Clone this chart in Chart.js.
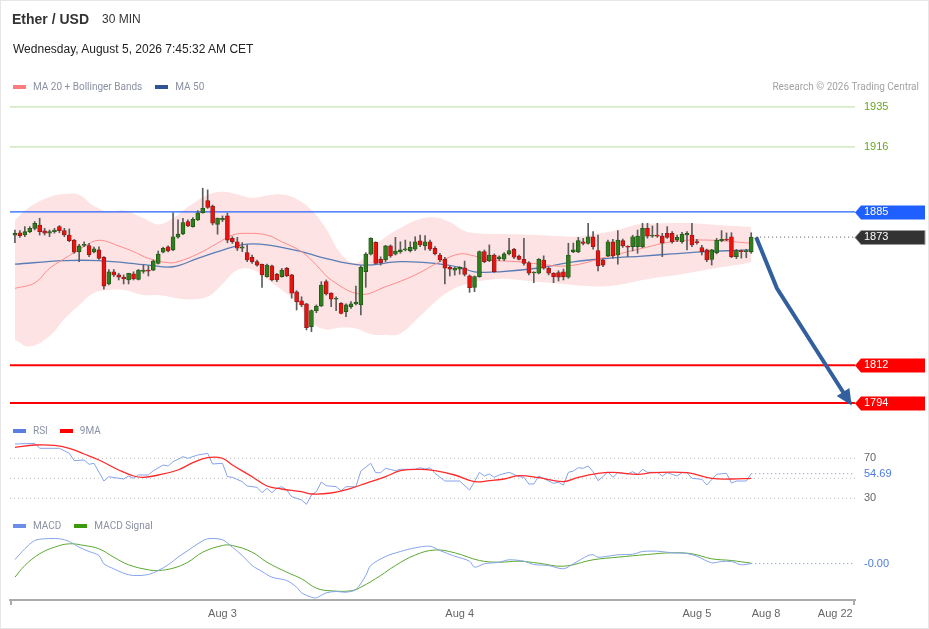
<!DOCTYPE html>
<html lang="en">
  <head>
    <meta charset="utf-8" />
    <title>Ether / USD 30 MIN</title>
    <style>
      body { margin: 0; background: #fff; font-family: Arial, "Liberation Sans", sans-serif; }
      #wrap { position: relative; width: 929px; height: 629px; overflow: hidden; }
      #chart { position: absolute; left: 0; top: 0; }
      #frame { position: absolute; left: 0; top: 0; width: 927px; height: 627px; border: 1px solid #e6e6e6; pointer-events: none; }
      .txt { position: absolute; white-space: nowrap; line-height: 16px; }
      .legend { position: absolute; font-family: Roboto, Arial, sans-serif; font-size: 10px; line-height: 12px; color: #8b91a3; white-space: nowrap; }
      .sw { display: inline-block; width: 13px; height: 4px; margin-right: 7px; vertical-align: 1px; }
    </style>
  </head>
  <body>
    <div id="wrap">
      <canvas id="chart" width="929" height="629"></canvas>

      <div class="txt" style="left:12px; top:11px; font-size:14px; font-weight:bold; color:#333;">Ether / USD</div>
      <div class="txt" style="left:102px; top:11px; font-size:12px; color:#333;">30 MIN</div>
      <div class="txt" style="left:13px; top:41px; font-size:12px; color:#222;">Wednesday, August 5, 2026 7:45:32 AM CET</div>

      <div class="legend" style="left:13px; top:81px;">
        <span class="sw" style="background:#ff7b7b;"></span>MA 20 + Bollinger Bands<span class="sw" style="background:#2f5597; margin-left:13px;"></span>MA 50
      </div>
      <div class="legend" style="right:10px; top:81px; color:#a3a3a3;">Research © 2026 Trading Central</div>

      <div class="legend" style="left:13px; top:425px;">
        <span class="sw" style="background:#5b7fe0;"></span>RSI<span class="sw" style="background:#ff0000; margin-left:12px;"></span>9MA
      </div>
      <div class="legend" style="left:13px; top:520px;">
        <span class="sw" style="background:#6b8fe8;"></span>MACD<span class="sw" style="background:#3c9a0a; margin-left:13px;"></span>MACD Signal
      </div>

      <div id="frame"></div>
    </div>

    <script src="https://cdn.jsdelivr.net/npm/chart.js"></script>
    <script>
      // 30 min candles, index 0..149 (Aug 3 00:00 = index 42)
      const candleOpen = [
        1873.9,1875.1,1874.0,1875.6,1877.2,1878.8,1876.0,1874.9,1875.6,1878.0,
        1876.1,1874.0,1871.6,1866.0,1869.0,1869.0,1866.0,1866.9,1863.4,1850.7,
        1856.5,1855.0,1853.9,1852.6,1855.5,1852.9,1856.7,1857.3,1857.3,1860.5,
        1865.8,1868.4,1866.9,1873.0,1874.5,1880.4,1878.0,1881.2,1884.6,1890.4,
        1887.8,1879.1,1881.2,1883.1,1872.4,1870.8,1867.7,1865.6,1863.4,1861.3,
        1860.1,1854.2,1859.3,1855.3,1854.2,1858.1,1855.0,1847.0,1842.7,1841.2,
        1830.4,1838.0,1840.2,1851.8,1846.3,1843.4,1841.5,1837.5,1839.9,1841.2,
        1840.7,1856.5,1864.9,1870.5,1862.4,1862.1,1868.8,1864.9,1865.9,1866.9,
        1866.6,1867.3,1871.2,1868.8,1870.8,1867.7,1864.5,1862.4,1858.6,1857.3,
        1857.7,1858.4,1854.6,1849.1,1854.2,1866.1,1861.8,1864.5,1862.8,1862.5,
        1865.0,1867.2,1864.0,1862.4,1860.8,1855.9,1855.8,1862.1,1858.2,1855.8,
        1856.1,1856.5,1853.9,1866.0,1866.0,1870.8,1870.0,1873.2,1866.6,1862.1,
        1864.0,1870.8,1864.5,1871.3,1868.6,1868.4,1868.4,1868.4,1877.2,1873.5,
        1874.0,1873.5,1874.8,1874.8,1871.6,1870.8,1874.0,1874.0,1870.8,1868.0,
        1866.9,1862.4,1865.6,1871.3,1872.0,1873.2,1863.7,1866.6,1866.1,1866.0
      ];
      const candleHigh = [
        1876.4,1876.1,1878.0,1878.0,1880.4,1882.0,1877.2,1876.4,1877.2,1878.5,
        1877.2,1876.9,1871.9,1869.6,1870.8,1870.1,1868.3,1868.4,1863.7,1857.6,
        1857.6,1855.8,1855.0,1855.8,1856.5,1857.6,1859.7,1859.3,1862.1,1866.4,
        1868.2,1868.8,1884.6,1881.2,1882.0,1881.2,1882.3,1885.6,1896.3,1895.5,
        1888.3,1882.1,1883.1,1884.4,1873.2,1872.9,1870.4,1869.3,1864.5,1862.1,
        1860.2,1860.2,1859.7,1855.8,1858.1,1858.6,1855.3,1847.5,1844.6,1841.5,
        1838.3,1840.7,1851.8,1852.6,1846.5,1844.6,1841.8,1841.2,1842.3,1849.7,
        1859.3,1865.6,1872.7,1870.8,1863.6,1869.1,1869.3,1872.9,1870.8,1871.6,
        1870.8,1873.2,1874.0,1873.8,1871.6,1868.5,1865.3,1863.4,1859.3,1858.6,
        1858.9,1861.6,1855.0,1854.5,1866.4,1866.9,1869.3,1865.0,1864.1,1865.6,
        1872.4,1867.7,1864.5,1872.4,1861.3,1856.5,1862.8,1864.1,1858.6,1856.1,
        1857.0,1857.8,1870.1,1870.2,1872.9,1872.4,1879.6,1875.6,1874.0,1862.8,
        1871.6,1872.0,1876.1,1872.1,1868.9,1873.9,1876.4,1879.6,1879.6,1878.3,
        1879.6,1874.8,1878.0,1875.6,1874.0,1875.3,1875.6,1879.6,1872.0,1869.1,
        1867.3,1867.2,1872.4,1876.1,1875.0,1875.1,1867.2,1866.9,1867.2,1875.1
      ];
      const candleLow = [
        1870.4,1872.9,1873.2,1875.1,1876.4,1874.0,1874.0,1873.2,1874.9,1875.1,
        1873.2,1870.8,1865.3,1861.3,1868.5,1863.7,1865.5,1862.4,1848.2,1850.2,
        1854.2,1852.6,1850.7,1850.7,1852.6,1852.6,1855.8,1854.5,1857.0,1860.2,
        1865.5,1865.9,1866.6,1872.5,1874.2,1878.0,1877.7,1880.9,1884.4,1886.7,
        1878.8,1874.4,1880.4,1870.3,1870.0,1866.6,1866.1,1861.3,1860.5,1859.2,
        1849.1,1853.9,1852.1,1851.8,1853.9,1854.2,1843.9,1838.3,1839.9,1828.8,
        1828.0,1837.0,1839.9,1845.4,1839.9,1838.0,1836.4,1835.1,1839.1,1840.7,
        1835.9,1849.1,1864.5,1860.2,1859.7,1861.3,1863.4,1864.5,1865.3,1866.4,
        1865.9,1866.6,1868.5,1866.9,1866.6,1864.5,1861.3,1850.7,1854.5,1854.9,
        1855.3,1854.5,1846.7,1847.0,1853.9,1860.8,1861.3,1856.2,1861.8,1861.8,
        1864.5,1862.8,1862.1,1859.7,1855.0,1851.3,1855.5,1857.7,1855.0,1851.3,
        1852.1,1852.6,1853.4,1865.6,1865.6,1869.3,1869.6,1867.3,1856.9,1858.9,
        1863.7,1863.0,1860.1,1868.1,1863.7,1866.4,1865.3,1868.0,1872.5,1872.9,
        1872.9,1863.7,1872.4,1870.1,1870.8,1870.1,1866.9,1868.5,1869.6,1864.5,
        1861.3,1859.7,1865.0,1870.8,1871.3,1863.2,1862.8,1863.0,1863.2,1865.3
      ];
      const candleClose = [
        1874.8,1873.7,1875.6,1877.2,1879.6,1875.6,1874.9,1875.6,1876.4,1876.1,
        1874.0,1871.3,1865.8,1868.8,1869.6,1864.5,1867.4,1862.9,1849.7,1856.5,
        1855.0,1853.9,1853.1,1855.8,1853.1,1857.3,1857.3,1856.8,1861.6,1864.9,
        1867.7,1866.4,1873.2,1874.4,1879.9,1878.3,1881.5,1884.6,1886.7,1887.2,
        1879.6,1882.1,1882.0,1871.6,1870.8,1867.7,1868.4,1862.1,1861.3,1859.7,
        1855.0,1859.7,1852.6,1852.6,1857.3,1854.5,1846.3,1842.2,1840.7,1829.9,
        1838.0,1840.2,1850.2,1845.9,1843.4,1843.9,1836.7,1840.7,1841.2,1842.1,
        1858.6,1864.9,1872.4,1860.5,1860.8,1868.8,1864.0,1866.4,1866.9,1867.4,
        1868.2,1870.8,1869.3,1870.8,1867.3,1865.0,1862.1,1858.2,1857.7,1858.3,
        1858.6,1855.3,1848.9,1854.2,1866.1,1861.3,1864.5,1856.5,1863.6,1865.0,
        1866.6,1863.4,1862.4,1860.5,1855.8,1856.4,1862.4,1858.2,1855.8,1854.2,
        1853.9,1854.2,1864.5,1866.9,1871.3,1870.0,1873.2,1868.4,1859.3,1859.7,
        1870.8,1864.0,1871.6,1868.8,1868.2,1873.2,1873.5,1877.2,1873.5,1874.0,
        1873.5,1870.1,1872.9,1870.8,1872.9,1874.5,1874.8,1869.3,1870.4,1866.1,
        1862.1,1866.9,1871.6,1872.0,1871.6,1863.7,1866.6,1866.1,1866.6,1873.0
      ];

      // moving averages and Bollinger bands, read at candle indexes
      const ma20Idx = [0,4,7,11,14,17,21,24,27,31,33,37,41,44,47,51,54,58,61,64,70,75,81,86,90,93,96,102,106,112,120,127,133,140,149];
      const ma20Val = [1848.6,1851.2,1858.1,1864.2,1868.5,1871.5,1868.8,1866.1,1862.9,1860.8,1861.3,1865.0,1870.1,1874.0,1874.8,1874.0,1870.8,1866.1,1859.7,1852.6,1845.8,1849.4,1855.0,1861.3,1865.0,1864.0,1862.1,1861.3,1860.2,1859.3,1863.7,1867.7,1870.8,1871.6,1870.1];
      const ma50Idx = [0,10,17,27,32,37,44,47,51,58,62,70,78,85,90,93,98,106,113,120,127,133,140,149];
      const ma50Val = [1860.1,1861.8,1861.8,1859.7,1858.9,1862.9,1868.2,1869.7,1869.3,1866.1,1863.4,1859.7,1861.3,1860.5,1858.6,1856.5,1856.5,1858.3,1861.2,1862.9,1864.0,1865.0,1866.1,1866.9];
      const bandIdx = [0,3,7,10,13,16,19,22,26,29,32,35,39,42,45,48,51,54,57,60,63,66,69,72,75,78,82,85,88,91,94,98,102,106,110,114,118,122,126,130,134,138,142,146,149];
      const bandUpper = [1881.2,1887.4,1892.1,1893.6,1893.1,1887.8,1885.0,1885.7,1882.1,1879.0,1882.1,1887.4,1893.1,1894.6,1893.3,1891.7,1892.8,1893.3,1891.2,1885.9,1876.9,1865.0,1860.7,1866.9,1873.1,1877.4,1881.6,1882.4,1880.2,1875.9,1874.7,1874.5,1874.3,1874.0,1873.5,1873.3,1874.7,1876.4,1879.0,1879.5,1879.7,1879.5,1878.8,1878.3,1877.8];
      const bandLower = [1824.0,1820.9,1825.9,1834.0,1840.7,1846.4,1847.8,1847.8,1845.4,1845.4,1844.2,1843.3,1844.7,1850.7,1857.3,1857.6,1853.1,1847.8,1842.1,1832.3,1829.0,1829.9,1829.5,1826.9,1826.4,1827.1,1835.4,1842.1,1847.3,1850.4,1852.1,1853.1,1852.6,1851.6,1850.9,1850.0,1849.5,1850.2,1852.1,1853.8,1855.0,1856.6,1858.3,1859.7,1861.2];

      // key levels and forecast path
      const priceLevels = [1935, 1916, 1885, 1873, 1812, 1794];
      const lastPrice = 1873;
      const forecastIdx = [150, 154.2, 169];
      const forecastVal = [1873, 1848.6, 1794];

      // RSI panel
      const rsiIdx = [0,4,5,9,11,12,14,15,16,18,19,22,23,24,25,27,28,30,31,32,34,35,37,39,40,42,43,44,46,47,49,50,51,52,53,54,55,56,58,59,60,61,62,63,65,66,67,69,70,72,73,74,75,77,78,81,82,83,84,85,87,90,92,93,94,95,96,97,98,100,102,103,104,105,106,108,109,110,111,112,113,114,115,116,117,118,119,120,121,122,124,125,126,127,128,130,131,132,133,134,135,136,137,139,140,142,144,145,146,148,149];
      const rsiVal = [84.3,85,80,80,75,67.6,68.3,64,65,47.3,51.6,49.3,52.3,50,53.3,53.3,57.6,63.3,62.3,66.6,71.6,70,73.3,75,64.3,65,51.6,51,46.6,42.3,41,35.6,40,35.6,40,41.6,38.3,31.6,28.3,24,33.3,36.6,46.3,42.6,41.6,37.6,41.6,41.6,57.3,65,55.6,55.6,60,57.6,59,59,60.6,59.3,60.6,55,47.3,47.3,38.3,46.6,56,52.3,54.3,51,53.3,56,51.6,51,44.3,44.3,52.3,47.3,45,46,43.3,56,57.3,60.6,60,62.3,56.6,47.6,51.6,56.6,51,55.6,54.3,56.6,54,59,56,56,52.3,55.6,54,52.3,55.6,55.6,50,49,43.3,54,55,45.3,47.3,47.3,54.69];
      const rsiMaIdx = [0,4,8,11,14,17,21,24,26,29,33,36,39,42,44,48,51,54,58,60,64,68,71,75,78,82,85,89,93,96,99,102,106,111,114,118,121,126,129,136,141,145,149];
      const rsiMaVal = [81,83.3,83,80,74.3,68.3,58.3,52.3,51,53.3,58.3,65.6,70.6,70,63.3,51.6,42.3,39.3,36.6,34.3,35.3,40,45,51.6,57.6,59,57.6,53.3,46.6,47.6,49.3,52.6,50.6,46.6,51,55,56,54,55.6,55.6,50,49.3,50];
      const rsiLevels = [70, 50, 30];
      const rsiLast = 54.69;

      // MACD panel
      const macdIdx = [0,2,4,6,9,11,13,15,17,18,20,22,24,27,29,31,33,35,37,39,42,44,46,48,50,52,55,57,58,60,61,63,65,67,69,71,72,75,78,81,84,86,89,92,93,95,98,100,103,105,108,111,113,116,117,118,120,122,125,127,130,133,136,138,141,143,145,147,149];
      const macdVal = [0.40,1.47,2.30,2.47,2.47,2.2,1.63,1.2,0.8,-0.03,-0.53,-0.97,-1.2,-1.1,-0.7,-0.13,0.63,1.3,1.97,2.47,2.37,1.63,0.8,-0.2,-0.8,-1.37,-1.7,-2.37,-2.93,-3.37,-3.43,-2.93,-2.8,-2.87,-2.6,-1.2,-0.2,0.7,1.2,1.57,1.73,1.3,0.73,0.23,-0.37,-0.03,0.13,0.37,0.23,-0.1,-0.2,-0.53,-0.03,0.8,0.87,0.63,0.73,0.87,0.93,1.2,1.23,1.07,1.0,0.73,0.07,0.2,0.2,-0.13,-0.004];
      const signalIdx = [0,2,5,8,11,14,17,20,23,27,29,32,35,38,42,44,48,51,55,58,61,64,68,70,74,77,81,85,89,94,98,102,106,111,117,122,128,133,137,141,145,149];
      const signalVal = [-1.37,-0.2,0.97,1.63,1.97,1.8,1.47,0.63,-0.13,-0.63,-0.7,-0.47,0.13,1.13,1.8,1.8,1.13,0.13,-0.87,-1.53,-2.47,-2.73,-2.73,-2.37,-1.2,-0.2,0.85,1.35,1.07,0.3,0.13,0.23,0.03,-0.27,0.37,0.63,0.9,1.07,0.97,0.47,0.3,0.03];
      const macdLast = -0.004;

      // x axis
      const dateTickIdx = [42, 90, 138, 152, 166];
      const dateTickText = ['Aug 3', 'Aug 4', 'Aug 5', 'Aug 8', 'Aug 22'];
      const xMin = -1, xMax = 170;

      // styles
      const UP = '#2f7d1f', UP_EDGE = '#1f5514', DOWN = '#e8120f', DOWN_EDGE = '#8c1a1a';
      const levelStyle = {
        1935: { line: '#c6e3b1', width: 1.2, text: '#6aa521' },
        1916: { line: '#c6e3b1', width: 1.2, text: '#6aa521' },
        1885: { line: '#2563ff', width: 1.3, tag: '#1f5fff', text: '#ffffff' },
        1873: { line: '#555555', width: 1, dash: [1, 3], tag: '#333333', edge: '#9a9a9a', text: '#ffffff' },
        1812: { line: '#ff0000', width: 2, tag: '#ff0000', text: '#ffffff' },
        1794: { line: '#ff0000', width: 2, tag: '#ff0000', text: '#ffffff' }
      };
      const ARROW = '#325f9d';
      const AXIS = '#ababab';

      function pts(xs, ys) {
        return xs.map((x, i) => ({ x: x, y: ys[i] }));
      }

      Chart.defaults.font.family = 'Arial, "Liberation Sans", sans-serif';

      const candleIdx = candleOpen.map((_, i) => i);
      const rising = candleIdx.map(i => candleClose[i] >= candleOpen[i]);

      const datasets = [];

      // forecast arrow (top-most)
      datasets.push({
        type: 'line', label: 'forecast', yAxisID: 'y',
        data: pts(forecastIdx, forecastVal),
        borderColor: ARROW, borderWidth: 4, tension: 0, clip: false
      });

      datasets.push({
        type: 'bar', label: 'bodies', yAxisID: 'y', grouped: false,
        data: candleIdx.map(i => ({ x: i, y: [candleOpen[i], candleClose[i]] })),
        backgroundColor: rising.map(r => r ? UP : DOWN),
        borderColor: rising.map(r => r ? UP_EDGE : DOWN_EDGE),
        borderWidth: 0.8, borderSkipped: false, barThickness: 4, minBarLength: 1
      });
      datasets.push({
        type: 'bar', label: 'wicks', yAxisID: 'y', grouped: false,
        data: candleIdx.map(i => ({ x: i, y: [candleLow[i], candleHigh[i]] })),
        backgroundColor: '#5c5c5c', barThickness: 1
      });

      datasets.push({
        type: 'line', label: 'MA 20', yAxisID: 'y',
        data: pts(ma20Idx, ma20Val),
        borderColor: '#ff8c8c', borderWidth: 1, tension: 0.4
      });
      datasets.push({
        type: 'line', label: 'MA 50', yAxisID: 'y',
        data: pts(ma50Idx, ma50Val),
        borderColor: '#5a7db5', borderWidth: 1.3, tension: 0.4
      });

      priceLevels.forEach(v => {
        const st = levelStyle[v];
        const from = v === lastPrice ? forecastIdx[0] : xMin;
        datasets.push({
          type: 'line', label: 'level ' + v, yAxisID: 'y',
          data: [{ x: from, y: v }, { x: xMax, y: v }],
          borderColor: st.line, borderWidth: st.width, borderDash: st.dash || []
        });
      });

      datasets.push({
        type: 'line', label: 'BB upper', yAxisID: 'y',
        data: pts(bandIdx, bandUpper),
        borderWidth: 0, tension: 0.4, fill: '+1', backgroundColor: '#fde3e3'
      });
      datasets.push({
        type: 'line', label: 'BB lower', yAxisID: 'y',
        data: pts(bandIdx, bandLower),
        borderWidth: 0, tension: 0.4
      });

      // RSI
      datasets.push({
        type: 'line', label: '9MA', yAxisID: 'yRsi',
        data: pts(rsiMaIdx, rsiMaVal),
        borderColor: '#ff2a2a', borderWidth: 1.3, tension: 0.4
      });
      datasets.push({
        type: 'line', label: 'RSI', yAxisID: 'yRsi',
        data: pts(rsiIdx, rsiVal),
        borderColor: '#86a3ea', borderWidth: 1, tension: 0
      });
      datasets.push({
        type: 'line', label: 'RSI last', yAxisID: 'yRsi',
        data: [{ x: xMax - 21, y: rsiLast }, { x: xMax, y: rsiLast }],
        borderColor: '#6b8fe8', borderWidth: 1, borderDash: [1, 3]
      });
      rsiLevels.forEach(v => {
        datasets.push({
          type: 'line', label: 'RSI ' + v, yAxisID: 'yRsi',
          data: [{ x: xMin, y: v }, { x: xMax, y: v }],
          borderColor: '#bdbdbd', borderWidth: 1, borderDash: [1, 3]
        });
      });

      // MACD
      datasets.push({
        type: 'line', label: 'MACD', yAxisID: 'yMacd',
        data: pts(macdIdx, macdVal),
        borderColor: '#86a3ea', borderWidth: 1, tension: 0.3
      });
      datasets.push({
        type: 'line', label: 'MACD Signal', yAxisID: 'yMacd',
        data: pts(signalIdx, signalVal),
        borderColor: '#5aa832', borderWidth: 1, tension: 0.4
      });
      datasets.push({
        type: 'line', label: 'MACD last', yAxisID: 'yMacd',
        data: [{ x: xMax - 21, y: macdLast }, { x: xMax, y: macdLast }],
        borderColor: '#6b8fe8', borderWidth: 1, borderDash: [1, 3]
      });

      // price tags behind the right-hand labels, arrow head, end ticks of the time axis
      const tagPlugin = {
        id: 'tags',
        beforeDraw(chart) {
          const ctx = chart.ctx, s = chart.scales.y, x0 = chart.chartArea.right;
          ctx.save();
          priceLevels.forEach(v => {
            const st = levelStyle[v];
            if (!st.tag) return;
            const y = Math.round(s.getPixelForValue(v)) + 0.5;
            ctx.beginPath();
            ctx.moveTo(x0, y);
            ctx.lineTo(x0 + 6, y - 7);
            ctx.lineTo(x0 + 70, y - 7);
            ctx.lineTo(x0 + 70, y + 7);
            ctx.lineTo(x0 + 6, y + 7);
            ctx.closePath();
            ctx.fillStyle = st.tag;
            ctx.fill();
            if (st.edge) {
              ctx.strokeStyle = st.edge;
              ctx.lineWidth = 1;
              ctx.stroke();
            }
          });
          ctx.restore();
        },
        afterDatasetsDraw(chart) {
          const meta = chart.getDatasetMeta(0);
          const p = meta.data;
          const a = p[p.length - 2], b = p[p.length - 1];
          const ang = Math.atan2(b.y - a.y, b.x - a.x);
          const dx = Math.cos(ang), dy = Math.sin(ang);
          const tipX = b.x + dx * 3, tipY = b.y + dy * 3;
          const len = 16, half = 7.5;
          const cx = tipX - dx * len, cy = tipY - dy * len;
          const ctx = chart.ctx;
          ctx.save();
          ctx.fillStyle = ARROW;
          ctx.beginPath();
          ctx.moveTo(tipX, tipY);
          ctx.lineTo(cx - dy * half, cy + dx * half);
          ctx.lineTo(cx + dy * half, cy - dx * half);
          ctx.closePath();
          ctx.fill();
          ctx.restore();
        },
        afterDraw(chart) {
          const ctx = chart.ctx, sx = chart.scales.x, yb = chart.chartArea.bottom;
          ctx.save();
          ctx.strokeStyle = AXIS;
          ctx.lineWidth = 2;
          [xMin, xMax].forEach(v => {
            const x = sx.getPixelForValue(v) + (v === xMin ? 1 : -1);
            ctx.beginPath();
            ctx.moveTo(x, yb);
            ctx.lineTo(x, yb + 5);
            ctx.stroke();
          });
          ctx.restore();
        }
      };

      const yCommon = {
        type: 'linear', position: 'right', stack: 'panes', offset: false,
        grid: { display: false, drawTicks: false },
        border: { display: false },
        afterFit: s => { s.width = 74; }
      };

      new Chart(document.getElementById('chart').getContext('2d'), {
        type: 'bar',
        data: { datasets: datasets },
        options: {
          responsive: false,
          animation: false,
          devicePixelRatio: 1,
          layout: { padding: { left: 10, top: 95, right: 0, bottom: 0 } },
          elements: { point: { radius: 0 } },
          plugins: { legend: { display: false }, tooltip: { enabled: false } },
          scales: {
            x: {
              type: 'linear', min: xMin, max: xMax, offset: false,
              grid: { display: false, drawTicks: false },
              border: { display: true, color: AXIS, width: 2 },
              ticks: {
                autoSkip: false, maxRotation: 0, padding: 7, color: '#666', font: { size: 11 },
                callback: v => {
                  const i = dateTickIdx.indexOf(v);
                  return i < 0 ? '' : dateTickText[i];
                }
              },
              afterBuildTicks: s => { s.ticks = dateTickIdx.map(v => ({ value: v })); },
              afterFit: s => { s.height = 29; }
            },
            y: Object.assign({}, yCommon, {
              stackWeight: 325, min: 1785.9, max: 1940.7,
              ticks: {
                autoSkip: false, padding: 9, font: { size: 11 },
                color: c => levelStyle[c.tick.value] ? levelStyle[c.tick.value].text : '#666',
                callback: v => String(v)
              },
              afterBuildTicks: s => { s.ticks = priceLevels.map(v => ({ value: v })); }
            }),
            yRsi: Object.assign({}, yCommon, {
              stackWeight: 95, min: 13.3, max: 108.3,
              ticks: {
                autoSkip: false, padding: 9, font: { size: 11 },
                color: c => c.tick.value === rsiLast ? '#4a7be0' : '#666',
                showLabelBackdrop: c => c.tick.value === rsiLast,
                backdropColor: '#ffffff', backdropPadding: 1,
                callback: v => v === rsiLast ? v.toFixed(2) : String(v)
              },
              afterBuildTicks: s => { s.ticks = [70, 50, rsiLast, 30].map(v => ({ value: v })); }
            }),
            yMacd: Object.assign({}, yCommon, {
              stackWeight: 85, min: -3.65, max: 4.85,
              ticks: {
                autoSkip: false, padding: 9, font: { size: 11 }, color: '#4a7be0',
                callback: v => v.toFixed(2)
              },
              afterBuildTicks: s => { s.ticks = [{ value: macdLast }]; }
            })
          }
        },
        plugins: [tagPlugin]
      });
    </script>
  </body>
</html>
